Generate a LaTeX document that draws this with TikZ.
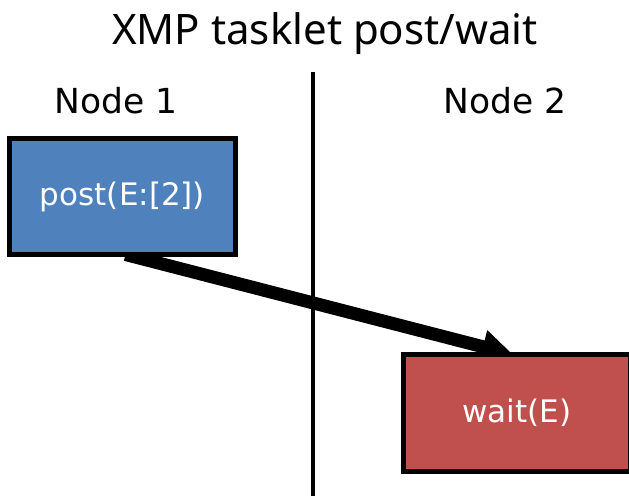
\documentclass[tikz,border=0pt]{standalone}
\usepackage{fontspec}
\setmainfont{DejaVu Sans}
\newfontfamily\titlefont{Noto Sans}
\usetikzlibrary{arrows.meta}
\definecolor{postblue}{HTML}{4F81BD}
\definecolor{waitred}{HTML}{C0504D}
\pgfdeclarelayer{back}
\pgfsetlayers{back,main}
\tikzset{
  task/.style={draw=black, line width=5pt, minimum width=226pt, minimum height=116pt,
    inner sep=0pt, text=white, font=\fontsize{31}{36}\selectfont},
  lane/.style={font=\fontsize{34.5}{40}\selectfont, anchor=base},
  msg/.style={line width=13pt, -{Triangle[length=31pt,width=32pt]}},
}
\begin{document}
\begin{tikzpicture}[x=1pt,y=-1pt]
  \useasboundingbox (0,0) rectangle (629,496);
  \clip (0,0) rectangle (629,496);
  % title and lane labels
  \node (title) [anchor=base, font=\titlefont\fontsize{42}{48}\selectfont] at (325,44) {XMP tasklet post/wait};
  \node (n1) [lane] at (116,113) {Node 1};
  \node (n2) [lane] at (505,113) {Node 2};
  % separator between the two nodes
  \coordinate (septop) at (313,72);
  \coordinate (sepbot) at (313,496);
  \draw[line width=3.5pt] (septop) -- (sepbot);
  % tasks
  \node (post) [task, fill=postblue] at (122.5,196.5) {post(E:[2])};
  \node (wait) [task, fill=waitred, minimum width=227.5pt, minimum height=117pt] at (517,413) {wait(E)};
  % message arrow, kept beneath the task boxes
  \begin{pgfonlayer}{back}
    \draw[msg] ([xshift=3pt,yshift=2.5pt]post.south) -- ([xshift=-4pt,yshift=-2.5pt]wait.north);
  \end{pgfonlayer}
\end{tikzpicture}
\end{document}
